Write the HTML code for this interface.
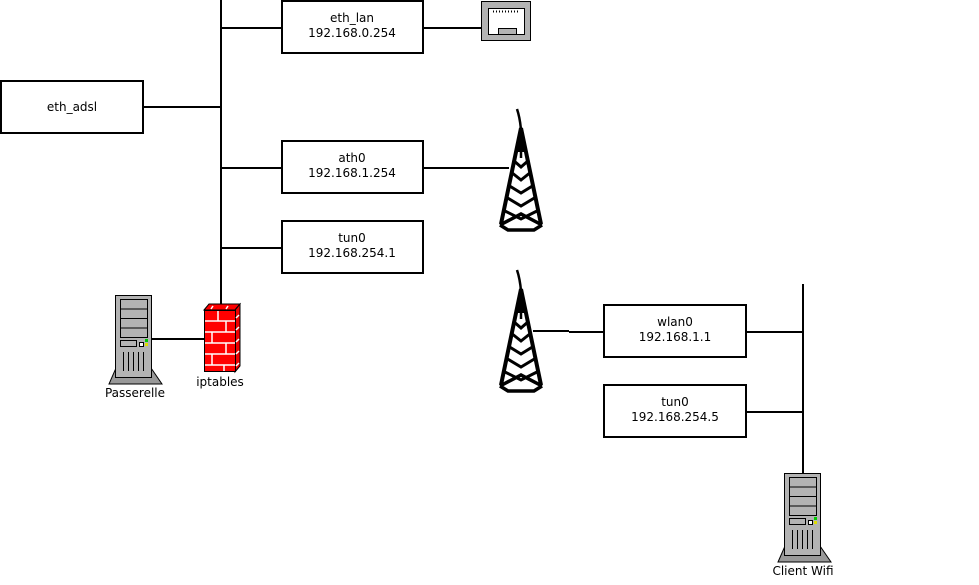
<!DOCTYPE html>
<html><head><meta charset="utf-8"><style>
html,body{margin:0;padding:0;background:#fff;}
svg{display:block;}
text{font-family:"DejaVu Sans","Liberation Sans",sans-serif;font-size:12px;fill:#000;}
</style></head><body>
<svg width="979" height="585" viewBox="0 0 979 585" xmlns="http://www.w3.org/2000/svg">
<defs>
<g id="server">
  <polygon points="116,368 151,368 162,384 109,384" fill="#999" stroke="#000" stroke-width="1"/>
  <rect x="115.5" y="295.5" width="36" height="82" fill="#b3b3b3" stroke="#000" stroke-width="1"/>
  <rect x="120.5" y="299.5" width="27" height="38" fill="#b3b3b3" stroke="#000" stroke-width="1"/>
  <line x1="120" y1="309" x2="148" y2="309" stroke="#000"/>
  <line x1="120" y1="318.5" x2="148" y2="318.5" stroke="#000"/>
  <line x1="120" y1="328" x2="148" y2="328" stroke="#000"/>
  <rect x="120.5" y="340.5" width="16" height="6" fill="#b3b3b3" stroke="#000"/>
  <rect x="139.5" y="342.5" width="4" height="4" fill="#fff" stroke="#000"/>
  <rect x="145" y="339" width="3" height="3" fill="#0c0"/>
  <rect x="145" y="343" width="3" height="3" fill="#dd0"/>
  <g stroke="#000" stroke-width="1">
    <line x1="123.5" y1="352" x2="123.5" y2="371"/>
    <line x1="128.5" y1="352" x2="128.5" y2="371"/>
    <line x1="133.5" y1="352" x2="133.5" y2="371"/>
    <line x1="138.5" y1="352" x2="138.5" y2="371"/>
    <line x1="143.5" y1="352" x2="143.5" y2="371"/>
  </g>
</g>
<g id="tower" fill="none" stroke="#000" stroke-width="4" stroke-linejoin="miter">
  <path d="M517,109 Q520,118 521,130" stroke-width="2.5"/>
  <polygon points="521,126 515,152 527,152" fill="#000" stroke="none"/>
  <line x1="521" y1="128" x2="501" y2="224"/>
  <line x1="521" y1="128" x2="541" y2="224"/>
  <polyline points="513,160 521,167 529,160" stroke-width="3"/>
  <polyline points="511,172 521,180 531,172" stroke-width="3"/>
  <polyline points="508,185 521,193 534,185" stroke-width="3"/>
  <polyline points="506,197 521,206 536,197" stroke-width="3"/>
  <polyline points="503,210 521,219 539,210" stroke-width="3"/>
  <line x1="521" y1="135" x2="521" y2="158" stroke-width="2.5"/>
  <polyline points="500,225 521,214 542,225" stroke-width="3.5"/>
  <polyline points="500,225 508,230 534,230 542,225" stroke-width="3.5"/>
</g>
</defs>

<!-- left bus -->
<g stroke="#000" stroke-width="2" fill="none">
  <line x1="221" y1="0" x2="221" y2="305"/>
  <line x1="221" y1="28" x2="281" y2="28"/>
  <line x1="144" y1="107" x2="221" y2="107"/>
  <line x1="221" y1="168" x2="281" y2="168"/>
  <line x1="221" y1="248" x2="281" y2="248"/>
  <line x1="424" y1="28" x2="481" y2="28"/>
  <line x1="424" y1="168" x2="509" y2="168"/>
  <line x1="152" y1="339" x2="204" y2="339"/>
  <line x1="533" y1="331" x2="569" y2="331"/>
  <line x1="569" y1="332" x2="604" y2="332"/>
  <line x1="803" y1="284" x2="803" y2="474"/>
  <line x1="746" y1="332" x2="803" y2="332"/>
  <line x1="746" y1="412" x2="803" y2="412"/>
</g>

<!-- boxes -->
<g fill="#fff" stroke="#000" stroke-width="2">
  <rect x="1" y="81" width="142" height="52"/>
  <rect x="282" y="1" width="141" height="52"/>
  <rect x="282" y="141" width="141" height="52"/>
  <rect x="282" y="221" width="141" height="52"/>
  <rect x="604" y="305" width="142" height="52"/>
  <rect x="604" y="385" width="142" height="52"/>
</g>
<g text-anchor="middle">
  <text x="72" y="111">eth_adsl</text>
  <text x="352" y="22">eth_lan</text>
  <text x="352" y="37">192.168.0.254</text>
  <text x="352" y="162">ath0</text>
  <text x="352" y="177">192.168.1.254</text>
  <text x="352" y="242">tun0</text>
  <text x="352" y="257">192.168.254.1</text>
  <text x="675" y="326">wlan0</text>
  <text x="675" y="341">192.168.1.1</text>
  <text x="675" y="406">tun0</text>
  <text x="675" y="421">192.168.254.5</text>
  <text x="220" y="386">iptables</text>
  <text x="135" y="397">Passerelle</text>
  <text x="803" y="575">Client Wifi</text>
</g>

<!-- ethernet port -->
<rect x="481.5" y="1.5" width="49" height="39" fill="#b3b3b3" stroke="#000"/>
<rect x="488.5" y="8.5" width="36" height="26" fill="#fff" stroke="#000"/>
<line x1="493" y1="11.5" x2="519" y2="11.5" stroke="#000" stroke-width="2" stroke-dasharray="1,2"/>
<rect x="498.5" y="28.5" width="18" height="6" fill="#b3b3b3" stroke="#000"/>

<!-- towers -->
<use href="#tower"/>
<use href="#tower" transform="translate(0,161)"/>

<!-- firewall -->
<polygon points="204,310 209,304 240,304 235,310" fill="#f00" stroke="#000"/>
<polygon points="235,310 240,304 240,366 235,372" fill="#e00" stroke="#000"/>
<rect x="204.5" y="310.5" width="31" height="61" fill="#f00" stroke="#000"/>
<g stroke="#fff" stroke-width="1.5">
  <line x1="205" y1="321" x2="235" y2="321"/>
  <line x1="205" y1="332" x2="235" y2="332"/>
  <line x1="205" y1="343" x2="235" y2="343"/>
  <line x1="205" y1="354" x2="235" y2="354"/>
  <line x1="205" y1="365" x2="235" y2="365"/>
  <line x1="218" y1="311" x2="218" y2="321"/>
  <line x1="226" y1="321" x2="226" y2="332"/>
  <line x1="212" y1="332" x2="212" y2="343"/>
  <line x1="226" y1="343" x2="226" y2="354"/>
  <line x1="212" y1="354" x2="212" y2="365"/>
  <line x1="224" y1="365" x2="224" y2="371"/>
  <line x1="213" y1="306" x2="211" y2="309"/>
  <line x1="228" y1="306" x2="226" y2="309"/>
  <line x1="236" y1="318" x2="239" y2="315"/>
  <line x1="236" y1="330" x2="239" y2="327"/>
  <line x1="236" y1="342" x2="239" y2="339"/>
  <line x1="236" y1="354" x2="239" y2="351"/>
  <line x1="236" y1="366" x2="239" y2="363"/>
</g>

<!-- servers -->
<use href="#server"/>
<use href="#server" transform="translate(669,178)"/>
</svg>
</body></html>
